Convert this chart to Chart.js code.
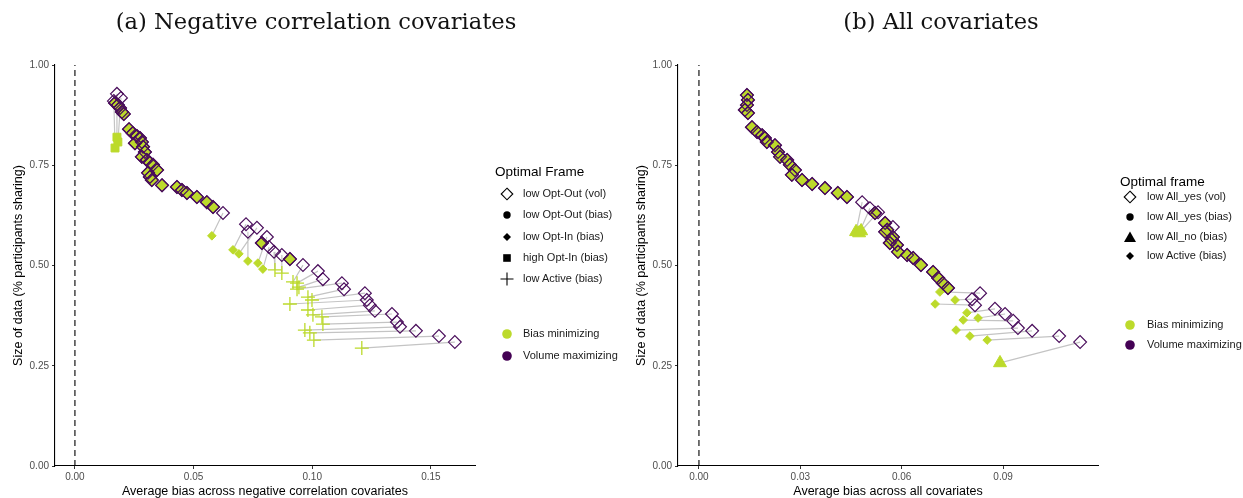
<!DOCTYPE html>
<html>
<head>
<meta charset="utf-8">
<script src="https://cdn.jsdelivr.net/npm/chart.js@4.4.1/dist/chart.umd.min.js"></script>
<style>
  html, body { margin: 0; padding: 0; background: #fff; }
  body { width: 1243px; height: 498px; position: relative; overflow: hidden;
         font-family: "Liberation Sans", Arial, sans-serif; }
  .panel { position: absolute; top: 0; }
  .title { position: absolute; top: 10px; font-family: "DejaVu Serif", serif; font-size: 22.6px;
           line-height: 1; color: #111; white-space: nowrap; transform: translateX(-50%); }
  .leg-title { position: absolute; font-size: 13.5px; color: #000; white-space: nowrap; line-height: 1; }
  .leg-item { position: absolute; font-size: 11px; color: #1a1a1a; white-space: nowrap; line-height: 1; }
  .leg-sym { position: absolute; width: 16px; height: 16px; }
</style>
</head>
<body>
<canvas id="chartA" class="panel" width="500" height="498" style="left:0px"></canvas>
<canvas id="chartB" class="panel" width="500" height="498" style="left:623px"></canvas>
<div class="title" style="left:316px">(a) Negative correlation covariates</div>
<div class="title" style="left:941px">(b) All covariates</div>
<div id="legendA"></div>
<div id="legendB"></div>
<script>
// ---------- Panel (a): negative correlation covariates ----------
// Each index is one case: the volume-maximizing frame and the bias-minimizing frame.
const volBiasA = [
  0.0169, 0.0181, 0.0190, 0.0198, 0.0206, 0.0228, 0.0244, 0.0261, 0.0274, 0.0282,
  0.0253, 0.0287, 0.0295, 0.0282, 0.0303, 0.0316, 0.0329, 0.0346, 0.0308, 0.0316,
  0.0324, 0.0367, 0.0430, 0.0451, 0.0472, 0.0514, 0.0556, 0.0582, 0.0788, 0.0906,
  0.0177, 0.0194, 0.0164,
  0.0624, 0.0721, 0.0767, 0.0729, 0.0809, 0.0818,
  0.0839, 0.0872,
  0.0961, 0.1024, 0.1045, 0.1125, 0.1134, 0.1222, 0.1230, 0.1243, 0.1264, 0.1336,
  0.1357, 0.1370, 0.1437, 0.1534, 0.1601
];
const volSizeA = [
  0.905, 0.900, 0.893, 0.883, 0.878, 0.840, 0.830, 0.823, 0.818, 0.808,
  0.805, 0.796, 0.783, 0.771, 0.763, 0.756, 0.751, 0.738, 0.731, 0.721,
  0.713, 0.700, 0.696, 0.688, 0.681, 0.671, 0.658, 0.646, 0.556, 0.516,
  0.928, 0.918, 0.910,
  0.631, 0.603, 0.594, 0.584, 0.571, 0.546,
  0.534, 0.526,
  0.501, 0.486, 0.466, 0.456, 0.441, 0.431, 0.414, 0.401, 0.387, 0.379,
  0.359, 0.347, 0.337, 0.324, 0.309
];
const minBiasA = [
  0.0169, 0.0181, 0.0190, 0.0198, 0.0206, 0.0228, 0.0244, 0.0261, 0.0274, 0.0282,
  0.0253, 0.0287, 0.0295, 0.0282, 0.0303, 0.0316, 0.0329, 0.0346, 0.0308, 0.0316,
  0.0324, 0.0367, 0.0430, 0.0451, 0.0472, 0.0514, 0.0556, 0.0582, 0.0788, 0.0906,
  0.0177, 0.0181, 0.0169,
  0.0577, 0.0666, 0.0691, 0.0729, 0.0771, 0.0792,
  0.0843, 0.0872,
  0.0919, 0.0936, 0.0944, 0.0936, 0.0982, 0.0999, 0.0906, 0.0982, 0.1003, 0.1041,
  0.1045, 0.0969, 0.0990, 0.1007, 0.1209
];
const minSizeA = [
  0.905, 0.900, 0.893, 0.883, 0.878, 0.840, 0.830, 0.823, 0.818, 0.808,
  0.805, 0.796, 0.783, 0.771, 0.763, 0.756, 0.751, 0.738, 0.731, 0.721,
  0.713, 0.700, 0.696, 0.688, 0.681, 0.671, 0.658, 0.646, 0.556, 0.516,
  0.820, 0.808, 0.793,
  0.574, 0.539, 0.529, 0.511, 0.506, 0.491,
  0.489, 0.481,
  0.459, 0.456, 0.446, 0.441, 0.421, 0.414, 0.404, 0.389, 0.377, 0.372,
  0.354, 0.339, 0.332, 0.314, 0.294
];
const minFrameA = [
  'low Opt-Out', 'low Opt-Out', 'low Opt-Out', 'low Opt-Out', 'low Opt-Out',
  'low Opt-Out', 'low Opt-Out', 'low Opt-Out', 'low Opt-Out', 'low Opt-Out',
  'low Opt-Out', 'low Opt-Out', 'low Opt-Out', 'low Opt-Out', 'low Opt-Out',
  'low Opt-Out', 'low Opt-Out', 'low Opt-Out', 'low Opt-Out', 'low Opt-Out',
  'low Opt-Out', 'low Opt-Out', 'low Opt-Out', 'low Opt-Out', 'low Opt-Out',
  'low Opt-Out', 'low Opt-Out', 'low Opt-Out', 'low Opt-Out', 'low Opt-Out',
  'high Opt-In', 'high Opt-In', 'high Opt-In',
  'low Opt-In', 'low Opt-In', 'low Opt-In', 'low Opt-In', 'low Opt-In', 'low Opt-In',
  'low Active', 'low Active',
  'low Active', 'low Active', 'low Active', 'low Active', 'low Active',
  'low Active', 'low Active', 'low Active', 'low Active', 'low Active',
  'low Active', 'low Active', 'low Active', 'low Active', 'low Active'
];
const xTicksA = [0, 0.05, 0.10, 0.15];
const xTickLabelsA = ['0.00', '0.05', '0.10', '0.15'];
const xRangeA = [-0.0084, 0.1686];

// ---------- Panel (b): all covariates ----------
const volBiasB = [
  0.0142, 0.0145, 0.0142, 0.0136, 0.0145, 0.0157, 0.0172, 0.0187, 0.0195, 0.0201,
  0.0225, 0.0234, 0.0240, 0.0261, 0.0269, 0.0284, 0.0275, 0.0305, 0.0335, 0.0373,
  0.0411, 0.0438, 0.0521, 0.0551, 0.0557, 0.0551, 0.0574, 0.0571, 0.0565, 0.0586,
  0.0589, 0.0616, 0.0634, 0.0657, 0.0693, 0.0708, 0.0722, 0.0737,
  0.0483, 0.0506, 0.0530,
  0.0574, 0.0832, 0.0808, 0.0817, 0.0876, 0.0906, 0.0930, 0.0944, 0.0986, 0.1066,
  0.1128
];
const volSizeB = [
  0.925, 0.913, 0.900, 0.888, 0.880, 0.845, 0.833, 0.825, 0.818, 0.808,
  0.800, 0.783, 0.771, 0.763, 0.751, 0.738, 0.726, 0.713, 0.703, 0.693,
  0.681, 0.671, 0.631, 0.606, 0.589, 0.584, 0.571, 0.564, 0.556, 0.551,
  0.534, 0.526, 0.519, 0.501, 0.484, 0.469, 0.456, 0.444,
  0.658, 0.643, 0.633,
  0.596, 0.431, 0.416, 0.401, 0.392, 0.379, 0.362, 0.344, 0.337, 0.324,
  0.309
];
const minBiasB = [
  0.0142, 0.0145, 0.0142, 0.0136, 0.0145, 0.0157, 0.0172, 0.0187, 0.0195, 0.0201,
  0.0225, 0.0234, 0.0240, 0.0261, 0.0269, 0.0284, 0.0275, 0.0305, 0.0335, 0.0373,
  0.0411, 0.0438, 0.0521, 0.0551, 0.0557, 0.0551, 0.0574, 0.0571, 0.0565, 0.0586,
  0.0589, 0.0616, 0.0634, 0.0657, 0.0693, 0.0708, 0.0722, 0.0737,
  0.0465, 0.0474, 0.0480,
  0.0560, 0.0713, 0.0758, 0.0699, 0.0793, 0.0826, 0.0782, 0.0761, 0.0802, 0.0853,
  0.0891
];
const minSizeB = [
  0.925, 0.913, 0.900, 0.888, 0.880, 0.845, 0.833, 0.825, 0.818, 0.808,
  0.800, 0.783, 0.771, 0.763, 0.751, 0.738, 0.726, 0.713, 0.703, 0.693,
  0.681, 0.671, 0.631, 0.606, 0.589, 0.584, 0.571, 0.564, 0.556, 0.551,
  0.534, 0.526, 0.519, 0.501, 0.484, 0.469, 0.456, 0.444,
  0.584, 0.581, 0.586,
  0.581, 0.434, 0.414, 0.404, 0.382, 0.369, 0.364, 0.339, 0.324, 0.314,
  0.257
];
const minFrameB = [
  'low All_yes', 'low All_yes', 'low All_yes', 'low All_yes', 'low All_yes',
  'low All_yes', 'low All_yes', 'low All_yes', 'low All_yes', 'low All_yes',
  'low All_yes', 'low All_yes', 'low All_yes', 'low All_yes', 'low All_yes',
  'low All_yes', 'low All_yes', 'low All_yes', 'low All_yes', 'low All_yes',
  'low All_yes', 'low All_yes', 'low All_yes', 'low All_yes', 'low All_yes',
  'low All_yes', 'low All_yes', 'low All_yes', 'low All_yes', 'low All_yes',
  'low All_yes', 'low All_yes', 'low All_yes', 'low All_yes', 'low All_yes',
  'low All_yes', 'low All_yes', 'low All_yes',
  'low All_no', 'low All_no', 'low All_no',
  'low Active', 'low Active', 'low Active', 'low Active', 'low Active',
  'low Active', 'low Active', 'low Active', 'low Active', 'low Active',
  'low All_no'
];
const xTicksB = [0, 0.03, 0.06, 0.09];
const xTickLabelsB = ['0.00', '0.03', '0.06', '0.09'];
const xRangeB = [-0.0062, 0.1181];

const yTicks = [0, 0.25, 0.5, 0.75, 1];
const yTickLabels = ['0.00', '0.25', '0.50', '0.75', '1.00'];

// ---------- styling ----------
const GREEN = '#bcda2b';
const PURPLE = '#4a0e5c';
const LINK = '#c4c4c4';
const SANS = '"Liberation Sans", Arial, sans-serif';

// marker look of each bias-minimizing frame
const frameStyles = {
  'low Opt-Out': { style: 'rectRot', r: 6.4, border: PURPLE, bw: 1.2 },
  'low All_yes': { style: 'rectRot', r: 6.4, border: PURPLE, bw: 1.2 },
  'low Opt-In':  { style: 'rectRot', r: 4.3, border: GREEN, bw: 1 },
  'high Opt-In': { style: 'rect', r: 5.6, border: GREEN, bw: 1 },
  'low Active':  { style: 'cross', r: 7, border: GREEN, bw: 1.3 },
  'low All_no':  { style: 'triangle', r: 7.5, border: GREEN, bw: 1 }
};
const frameStylesB = Object.assign({}, frameStyles, {
  'low Active': { style: 'rectRot', r: 4.3, border: GREEN, bw: 1 }
});

function zip(xs, ys) { return xs.map((x, i) => ({ x: x, y: ys[i] })); }

function links(vx, vy, bx, by) {
  const out = [];
  vx.forEach((x, i) => {
    if (x !== bx[i] || vy[i] !== by[i]) {
      out.push({ x: x, y: vy[i] }, { x: bx[i], y: by[i] }, { x: NaN, y: NaN });
    }
  });
  return out;
}

function buildPanel(id, p) {
  const styles = p.styles;
  return new Chart(document.getElementById(id), {
    type: 'scatter',
    data: {
      datasets: [
        { // dashed reference line at zero bias
          data: [{ x: 0, y: 0 }, { x: 0, y: 1 }], showLine: true, pointRadius: 0,
          borderColor: '#000', borderWidth: 1.1, borderDash: [6, 4], order: 4
        },
        { // grey segments joining the two optimal frames of a case
          data: links(p.vx, p.vy, p.bx, p.by), showLine: true, pointRadius: 0,
          borderColor: LINK, borderWidth: 1.2, spanGaps: false, order: 3
        },
        { // bias minimizing frames
          data: zip(p.bx, p.by), order: 2,
          pointStyle: c => styles[p.frames[c.dataIndex]].style,
          pointRadius: c => styles[p.frames[c.dataIndex]].r,
          pointBorderColor: c => styles[p.frames[c.dataIndex]].border,
          pointBorderWidth: c => styles[p.frames[c.dataIndex]].bw,
          pointBackgroundColor: GREEN
        },
        { // volume maximizing frames
          data: zip(p.vx, p.vy), order: 1,
          pointStyle: 'rectRot', pointRadius: 6.4, pointBorderWidth: 1.2,
          pointBorderColor: PURPLE, pointBackgroundColor: 'rgba(0,0,0,0)'
        }
      ]
    },
    options: {
      responsive: false, animation: false, devicePixelRatio: 1,
      events: [],
      layout: { padding: { top: 65, right: 25, left: 0, bottom: 0 } },
      plugins: { legend: { display: false }, tooltip: { enabled: false } },
      scales: {
        x: {
          type: 'linear', min: p.xRange[0], max: p.xRange[1],
          afterBuildTicks: s => { s.ticks = p.xTicks.map(v => ({ value: v })); },
          afterFit: s => { s.height = 32; },
          grid: { drawOnChartArea: false, drawTicks: true, tickLength: 3, color: '#333', lineWidth: 1 },
          border: { display: true, color: '#000', width: 1.1 },
          ticks: { padding: 2, color: '#4d4d4d', font: { family: SANS, size: 10 },
                   maxRotation: 0, autoSkip: false,
                   callback: (v, i) => p.xLabels[i] },
          title: { display: true, text: p.xTitle, color: '#000',
                   font: { family: SANS, size: 12.5, lineHeight: 1 }, padding: { top: 0, bottom: 0 } }
        },
        y: {
          type: 'linear', min: 0, max: 1,
          afterBuildTicks: s => { s.ticks = yTicks.map(v => ({ value: v })); },
          afterFit: s => { s.width = 55; },
          grid: { drawOnChartArea: false, drawTicks: true, tickLength: 3, color: '#333', lineWidth: 1 },
          border: { display: true, color: '#000', width: 1.1 },
          ticks: { padding: 3, color: '#4d4d4d', font: { family: SANS, size: 10 },
                   autoSkip: false, callback: (v, i) => yTickLabels[i] },
          title: { display: true, text: 'Size of data (% participants sharing)', color: '#000',
                   font: { family: SANS, size: 12.5, lineHeight: 1 }, padding: { top: 12, bottom: 0 } }
        }
      }
    }
  });
}

buildPanel('chartA', {
  vx: volBiasA, vy: volSizeA, bx: minBiasA, by: minSizeA, frames: minFrameA,
  styles: frameStyles, xTicks: xTicksA, xLabels: xTickLabelsA, xRange: xRangeA,
  xTitle: 'Average bias across negative correlation covariates'
});
buildPanel('chartB', {
  vx: volBiasB, vy: volSizeB, bx: minBiasB, by: minSizeB, frames: minFrameB,
  styles: frameStylesB, xTicks: xTicksB, xLabels: xTickLabelsB, xRange: xRangeB,
  xTitle: 'Average bias across all covariates'
});

// ---------- legends ----------
const glyphs = {
  openDiamond: '<path d="M8 2.2 L13.8 8 L8 13.8 L2.2 8 Z" fill="none" stroke="#000" stroke-width="1.1"/>',
  dot: '<circle cx="8" cy="8" r="3.7" fill="#000"/>',
  smallDiamond: '<path d="M8 4 L12 8 L8 12 L4 8 Z" fill="#000"/>',
  square: '<rect x="4.2" y="4.2" width="7.6" height="7.6" fill="#000"/>',
  plus: '<path d="M8 1.5 V14.5 M1.5 8 H14.5" stroke="#000" stroke-width="1.1"/>',
  triangle: '<path d="M8 2.5 L14 13 L2 13 Z" fill="#000"/>',
  green: '<circle cx="8" cy="8" r="4.8" fill="' + GREEN + '"/>',
  purple: '<circle cx="8" cy="8" r="4.8" fill="#440154"/>'
};

const legendTitleA = 'Optimal Frame';
const legendItemsA = [
  ['openDiamond', 'low Opt-Out (vol)'], ['dot', 'low Opt-Out (bias)'],
  ['smallDiamond', 'low Opt-In (bias)'], ['square', 'high Opt-In (bias)'],
  ['plus', 'low Active (bias)'], ['green', 'Bias minimizing'], ['purple', 'Volume maximizing']
];
const legendTitleB = 'Optimal frame';
const legendItemsB = [
  ['openDiamond', 'low All_yes (vol)'], ['dot', 'low All_yes (bias)'],
  ['triangle', 'low All_no (bias)'], ['smallDiamond', 'low Active (bias)'],
  ['green', 'Bias minimizing'], ['purple', 'Volume maximizing']
];

function drawLegend(hostId, title, items, pos) {
  const host = document.getElementById(hostId);
  let html = '<div class="leg-title" style="left:' + pos.titleX + 'px;top:' + (pos.titleY - 7) + 'px">' + title + '</div>';
  items.forEach((it, i) => {
    const cy = pos.rows[i];
    html += '<svg class="leg-sym" viewBox="0 0 16 16" style="left:' + (pos.symX - 8) + 'px;top:' + (cy - 8) + 'px">' + glyphs[it[0]] + '</svg>';
    html += '<div class="leg-item" style="left:' + pos.textX + 'px;top:' + (cy - 6) + 'px">' + it[1] + '</div>';
  });
  host.innerHTML = html;
}

drawLegend('legendA', legendTitleA, legendItemsA,
  { titleX: 495, titleY: 172, symX: 507, textX: 523, rows: [194, 215, 237, 258, 279, 334, 356] });
drawLegend('legendB', legendTitleB, legendItemsB,
  { titleX: 1120, titleY: 182, symX: 1130, textX: 1147, rows: [197, 217, 237, 256, 325, 345] });
</script>
</body>
</html>
